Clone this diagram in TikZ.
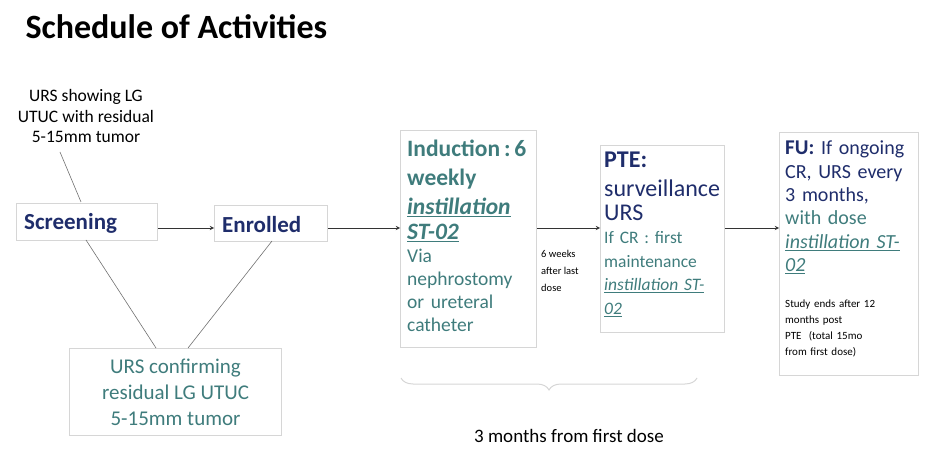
\documentclass[tikz,border=0pt]{standalone}
\usepackage{fontspec}
\setmainfont{Carlito}
\usetikzlibrary{decorations.pathreplacing}
\definecolor{navy}{HTML}{1F2D6B}
\definecolor{teal2}{HTML}{3F7C7C}
\definecolor{bord}{HTML}{D6D6D6}
\definecolor{ln}{HTML}{707070}
\tikzset{
 box/.style={draw=bord, line width=1pt, inner sep=0pt},
 txt/.style={anchor=north west, inner sep=0pt, align=left},
 arr/.style={->, >=stealth, draw=black!80, line width=0.9pt},
 thin/.style={draw=ln, line width=0.6pt},
}
\newcommand{\ul}[1]{\underline{#1}}
\begin{document}
\begin{tikzpicture}[x=1pt,y=-1pt]
\useasboundingbox (0,0) rectangle (926,454);
\node[anchor=west, font=\bfseries\fontsize{34}{36}\selectfont] (title) at (22,27) {Schedule of Activities};
\node[align=center, font=\fontsize{17.5}{20.5}\selectfont] (urs1) at (86,116) {URS showing LG\\UTUC with residual\\5-15mm tumor};
% boxes
\node[box, minimum width=141, minimum height=37, anchor=north west] (scr) at (16,203) {};
\node[anchor=west, inner sep=0pt, text=navy, font=\bfseries\fontsize{23}{24}\selectfont] (scrt) at (24,223) {Screening};
\node[box, minimum width=113, minimum height=36, anchor=north west] (enr) at (214,205) {};
\node[anchor=west, inner sep=0pt, text=navy, font=\bfseries\fontsize{23}{24}\selectfont] (enrt) at (222,225) {Enrolled};
\node[box, minimum width=212, minimum height=87, anchor=north west, text=teal2, align=center, font=\fontsize{21}{26}\selectfont] (conf) at (69,348) {URS confirming\\residual LG UTUC\\5-15mm tumor};
\node[box, minimum width=136, minimum height=217, anchor=north west] (ind) at (400,130) {};
\node[txt, text=teal2, text width=134, font=\fontsize{19.5}{23}\selectfont] (indt) at (407,140) {{\bfseries\fontsize{23.5}{28}\selectfont Induction\,:\,6\\[1pt]weekly\\[1pt]\ul{\itshape instillation}\\[2pt]\ul{\itshape ST-02}}\\Via\\nephrostomy\\or ureteral\\catheter};
\node[box, minimum width=124, minimum height=187, anchor=north west] (pte) at (600,145) {};
\node[txt, text=teal2, text width=124, font=\fontsize{17.5}{23.5}\selectfont] (ptet) at (604,152) {{\color{navy}\fontsize{24}{29}\selectfont\textbf{PTE:}\\surveillance\\URS}\\If CR : first\\maintenance\\\ul{\itshape instillation ST-}\\\ul{\itshape 02}};
\node[box, minimum width=139, minimum height=243, anchor=north west] (fu) at (779,132) {};
\node[txt, text=navy, text width=136, font=\fontsize{20}{23.3}\selectfont] (fut) at (785,141) {{\bfseries\fontsize{21}{23}\selectfont FU:} If ongoing\\CR, URS every\\3 months,\\{\color{teal2}with dose\\\ul{\itshape instillation ST-}\\\ul{\itshape 02}}};
\node[txt, text width=132, font=\fontsize{11}{16}\selectfont] (fus) at (785,300) {Study ends after 12\\months post\\PTE \ (total 15mo\\from first dose)};
\node[txt, font=\fontsize{10.5}{17}\selectfont] (wk) at (541,250) {6 weeks\\after last\\dose};
% connectors
\coordinate (u1) at (60,152);
\draw[thin] (u1) -- (81,202);
\draw[thin] (86,240) -- (156,348);
\draw[thin] (272,241) -- (188,348);
\draw[arr] (scr.east |- 0,228) -- (enr.west |- 0,228);
\draw[arr] (enr.east |- 0,228) -- (ind.west |- 0,228);
\draw[arr] (ind.east |- 0,228) -- (pte.west |- 0,228);
\draw[arr] (pte.east |- 0,228) -- (fu.west |- 0,228);
% brace
\coordinate (b1) at (401,378);
\coordinate (b2) at (697,378);
\draw[draw=bord, line width=1pt, decorate, decoration={brace, mirror, amplitude=12pt, raise=0pt}] (b1) -- (b2);
\node[font=\fontsize{19}{20}\selectfont] (bl) at (569,436) {3 months from first dose};
\end{tikzpicture}
\end{document}
